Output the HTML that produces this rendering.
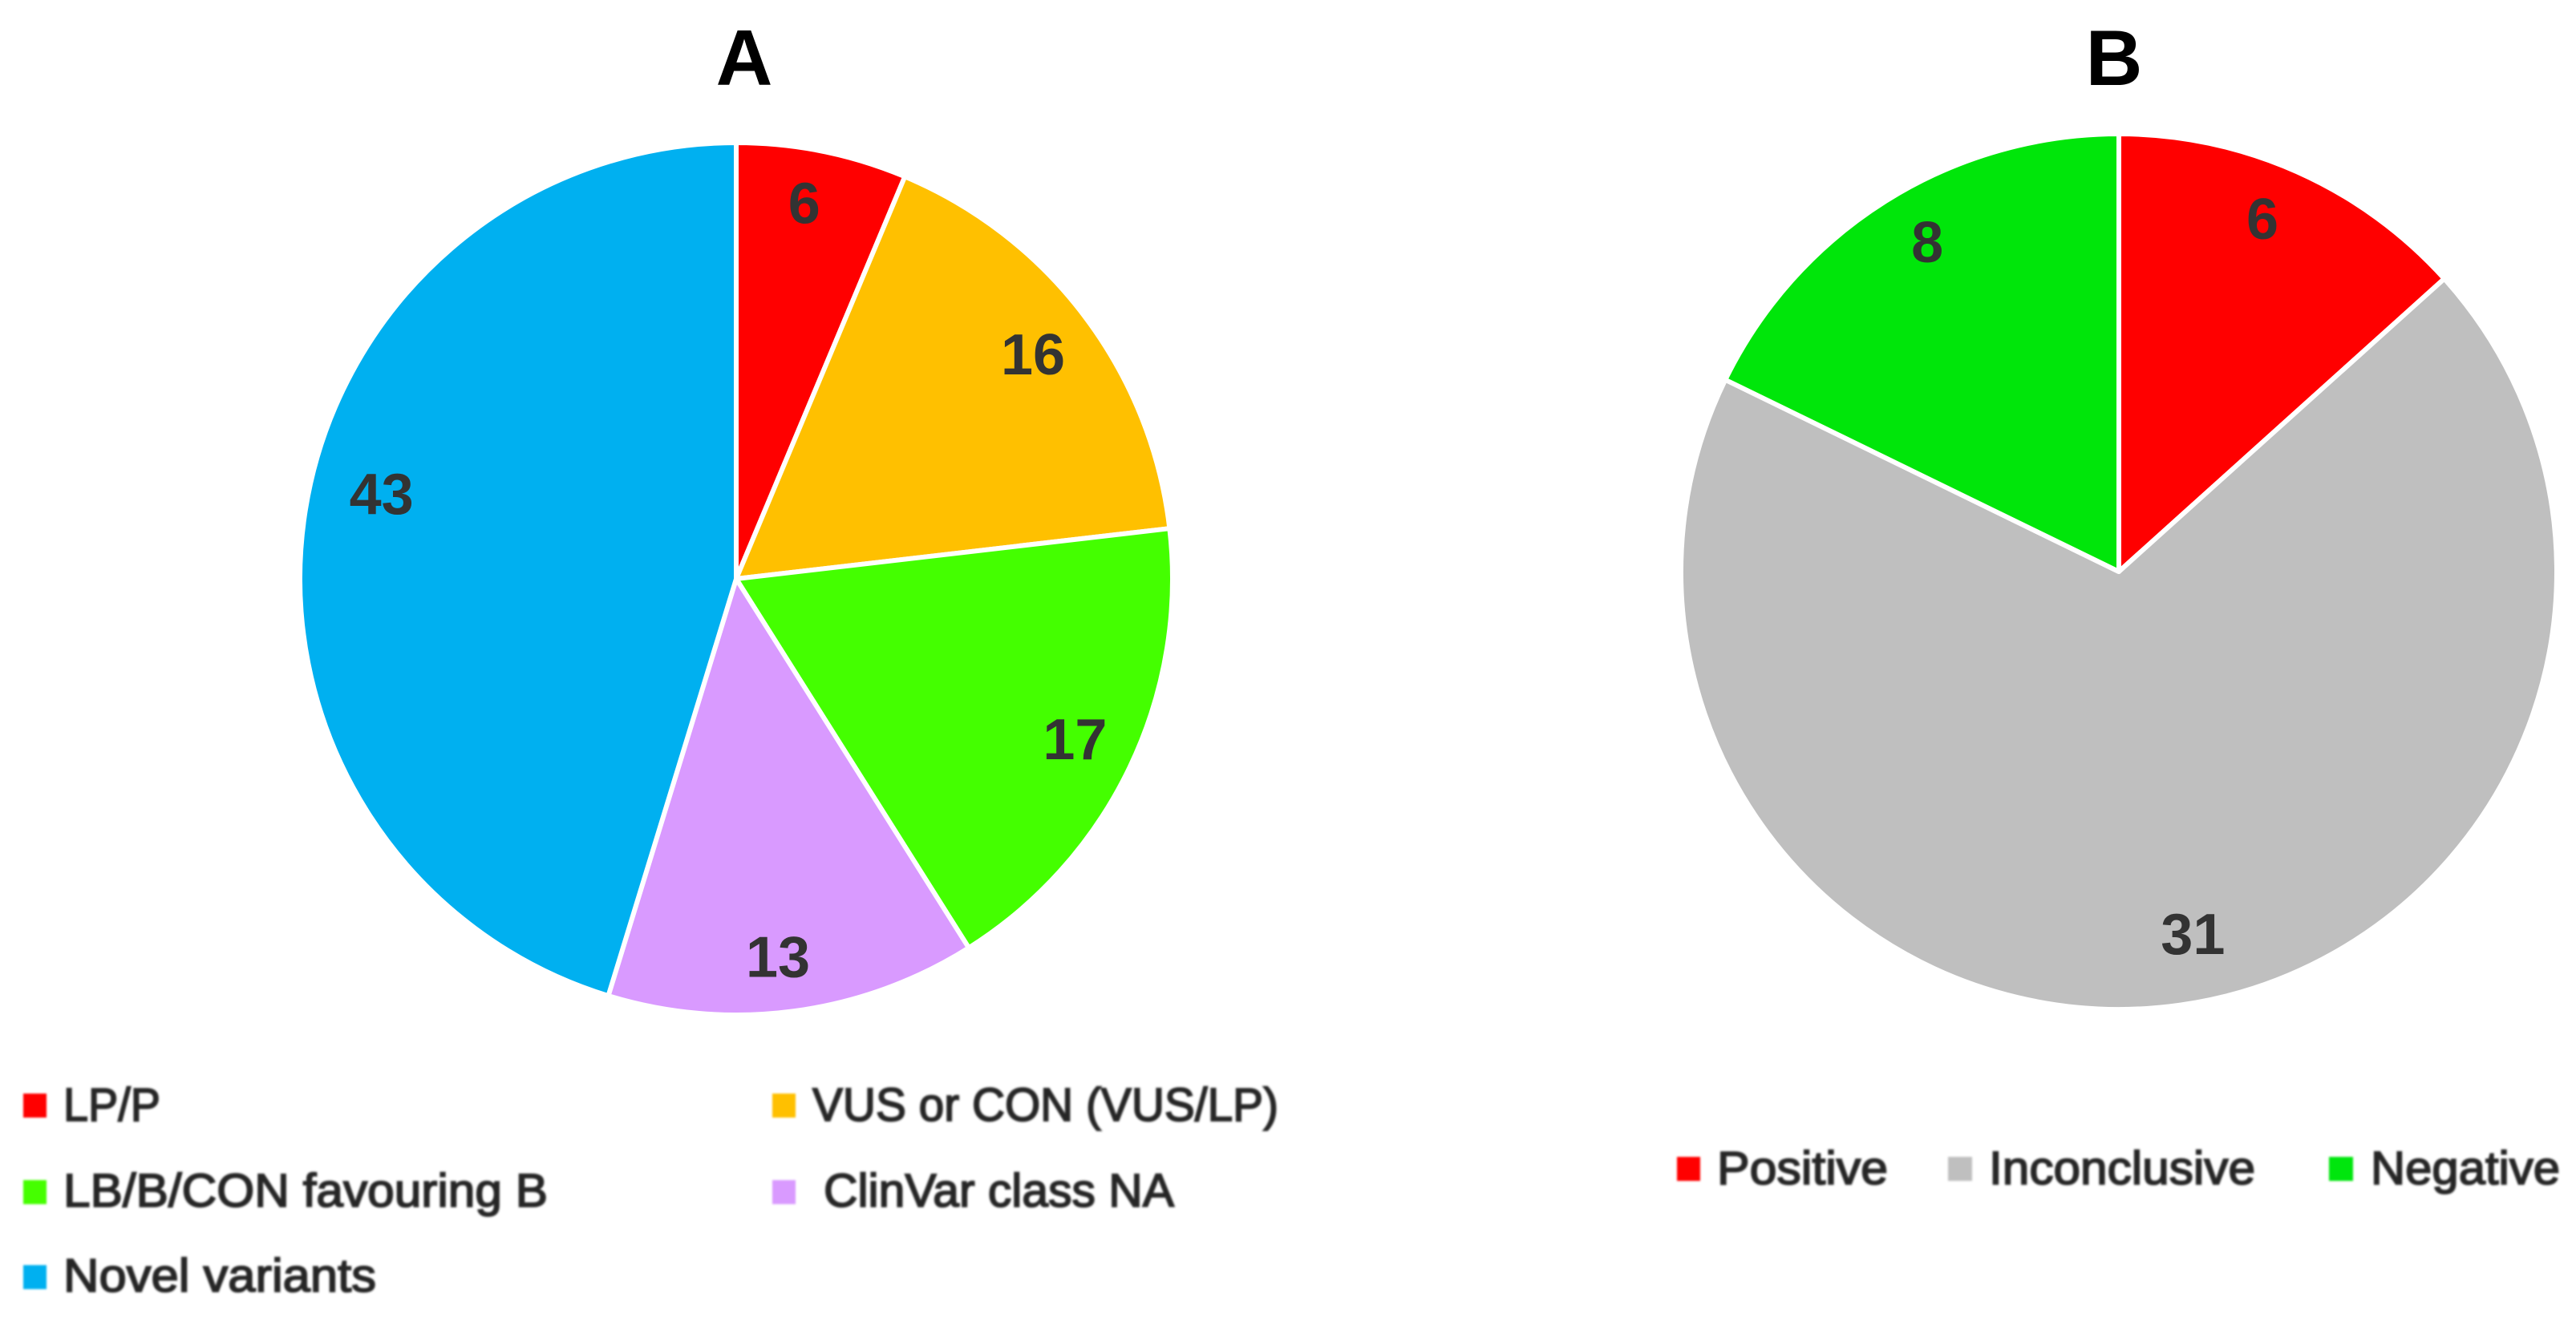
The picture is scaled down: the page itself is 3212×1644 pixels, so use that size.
<!DOCTYPE html>
<html>
<head>
<meta charset="utf-8">
<title>Variant classification pie charts</title>
<style>
html,body{margin:0;padding:0;background:#fff;}
svg{display:block;}
text{font-family:"Liberation Sans",sans-serif;}
.title{font-size:98px;font-weight:700;fill:#000;text-anchor:middle;}
.legend{font-size:58px;fill:#262626;stroke:#262626;stroke-width:1.8px;}
.value{font-size:72px;font-weight:700;fill:#333;text-anchor:middle;}
</style>
</head>
<body>
<svg id="figure" width="3212" height="1644" viewBox="0 0 3212 1644" xmlns="http://www.w3.org/2000/svg">
  <rect width="3212" height="1644" fill="#ffffff"/>
  <text class="title" x="928" y="106">A</text>
  <text class="title" x="2636" y="106">B</text>
  <g id="pie-a"></g>
  <g id="pie-b"></g>

  <g filter="url(#soft)">
    <g>
      <rect x="29" y="1364" width="29" height="30" fill="#ff0000"/>
      <text class="legend" x="79" y="1398" textLength="121" lengthAdjust="spacingAndGlyphs">LP/P</text>
    </g>
    <g>
      <rect x="963" y="1364" width="29" height="30" fill="#ffc000"/>
      <text class="legend" x="1013" y="1398" textLength="581" lengthAdjust="spacingAndGlyphs">VUS or CON (VUS/LP)</text>
    </g>
    <g>
      <rect x="29" y="1472" width="29" height="30" fill="#44ff00"/>
      <text class="legend" x="79" y="1505" textLength="604" lengthAdjust="spacingAndGlyphs">LB/B/CON favouring B</text>
    </g>
    <g>
      <rect x="963" y="1472" width="29" height="30" fill="#d99aff"/>
      <text class="legend" x="1027" y="1505" textLength="437" lengthAdjust="spacingAndGlyphs">ClinVar class NA</text>
    </g>
    <g>
      <rect x="29" y="1578" width="29" height="30" fill="#00b0f0"/>
      <text class="legend" x="79" y="1611" textLength="390" lengthAdjust="spacingAndGlyphs">Novel variants</text>
    </g>
  </g>

  <g filter="url(#soft)">
    <g>
      <rect x="2091" y="1443" width="29" height="30" fill="#ff0000"/>
      <text class="legend" x="2141" y="1477" textLength="213" lengthAdjust="spacingAndGlyphs">Positive</text>
    </g>
    <g>
      <rect x="2429" y="1443" width="30" height="30" fill="#bfbfbf"/>
      <text class="legend" x="2480" y="1477" textLength="332" lengthAdjust="spacingAndGlyphs">Inconclusive</text>
    </g>
    <g>
      <rect x="2904" y="1443" width="30" height="30" fill="#00e60a"/>
      <text class="legend" x="2956" y="1477" textLength="236" lengthAdjust="spacingAndGlyphs">Negative</text>
    </g>
  </g>

  <defs>
    <filter id="soft" x="-5%" y="-20%" width="110%" height="140%"><feGaussianBlur stdDeviation="1.3"/></filter>
  </defs>
</svg>
<script>
// Panel A data
const categoriesA = ['LP/P', 'VUS or CON (VUS/LP)', 'LB/B/CON favouring B', 'ClinVar class NA', 'Novel variants'];
const valuesA = [6, 16, 17, 13, 43];
const colorsA = ['#ff0000', '#ffc000', '#44ff00', '#d99aff', '#00b0f0'];

// Panel B data
const categoriesB = ['Positive', 'Inconclusive', 'Negative'];
const valuesB = [6, 31, 8];
const colorsB = ['#ff0000', '#bfbfbf', '#00e60a'];

const SVG_NS = 'http://www.w3.org/2000/svg';

function slug(s) {
  return s.toLowerCase().replace(/[^a-z0-9]+/g, '-').replace(/^-|-$/g, '');
}

// angle axis: cumulative value -> clockwise radians from 12 o'clock
function angleScale(values) {
  const total = values.reduce(function (a, b) { return a + b; }, 0);
  return function (v) { return v / total * 2 * Math.PI; };
}

function polar(cx, cy, r, a) {
  return [cx + r * Math.sin(a), cy - r * Math.cos(a)];
}

function drawPie(groupId, categories, values, colors, cx, cy, r, labelFraction, nudge) {
  const group = document.getElementById(groupId);
  const angle = angleScale(values);
  let cum = 0;
  values.forEach(function (v, i) {
    const a0 = angle(cum);
    const a1 = angle(cum + v);
    cum += v;
    const p0 = polar(cx, cy, r, a0);
    const p1 = polar(cx, cy, r, a1);
    const large = (a1 - a0) > Math.PI ? 1 : 0;
    const path = document.createElementNS(SVG_NS, 'path');
    path.setAttribute('d', 'M' + cx + ' ' + cy + 'L' + p0[0] + ' ' + p0[1] +
      'A' + r + ' ' + r + ' 0 ' + large + ' 1 ' + p1[0] + ' ' + p1[1] + 'Z');
    path.setAttribute('fill', colors[i]);
    path.setAttribute('stroke', '#ffffff');
    path.setAttribute('stroke-width', '6');
    path.setAttribute('stroke-linejoin', 'round');
    
    
    group.appendChild(path);
  });
  cum = 0;
  values.forEach(function (v, i) {
    const mid = angle(cum + v / 2);
    cum += v;
    const p = polar(cx, cy, r * labelFraction, mid);
    const t = document.createElementNS(SVG_NS, 'text');
    t.setAttribute('class', 'value');
    t.setAttribute('x', p[0] + nudge[i][0]);
    t.setAttribute('y', p[1] + 26 + nudge[i][1]);
    t.textContent = v;
    
    
    group.appendChild(t);
  });
}

// Layout tweaks: small pixel offsets from each slice's default label anchor
const labelTweakA = [[-8, -8], [-6, 2], [-2, -4], [-10, 4], [23, -37]];
const labelTweakB = [[-12, -12], [27, -14], [10, -14]];

drawPie('pie-a', categoriesA, valuesA, colorsA, 918, 722, 544, 0.865, labelTweakA);
drawPie('pie-b', categoriesB, valuesB, colorsB, 2642, 713, 546, 0.86, labelTweakB);
</script>
</body>
</html>
